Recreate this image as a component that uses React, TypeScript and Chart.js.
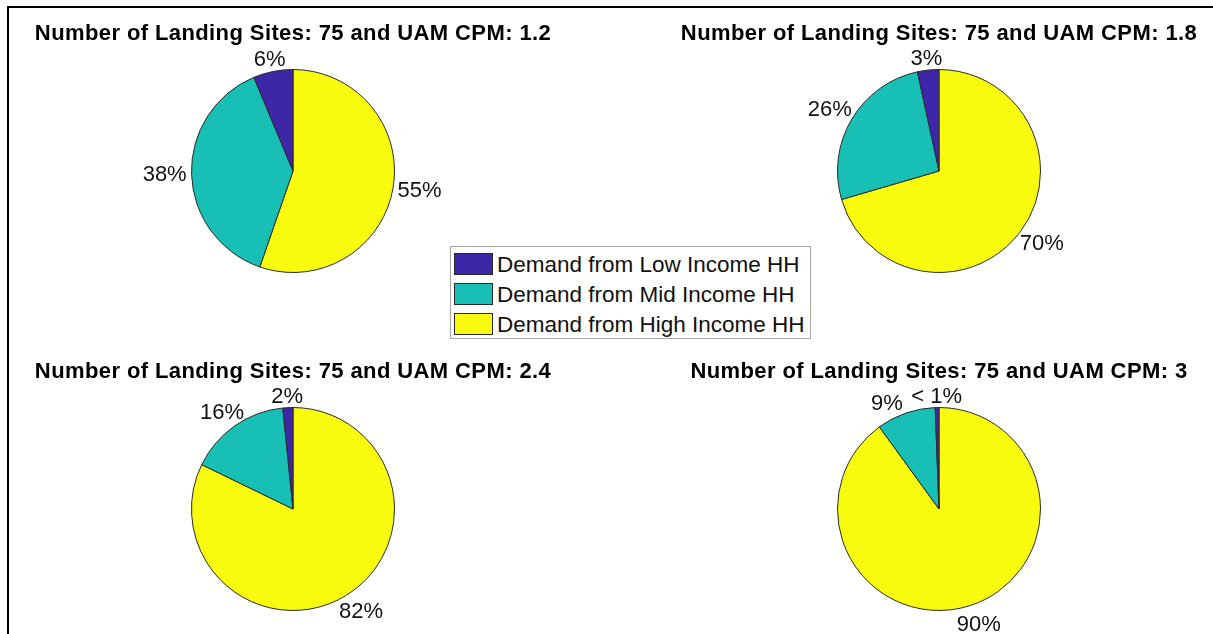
import React, { useEffect, useRef } from 'react';
import { Chart, registerables } from 'chart.js';

Chart.register(...registerables);

// ---- data ----
const CATEGORIES = ['Demand from Low Income HH', 'Demand from Mid Income HH', 'Demand from High Income HH'];
const LANDING_SITES = 75;
const CPM_VALUES = ['1.2', '1.8', '2.4', '3'];
const LOW_INCOME = [6.3, 3.4, 1.6, 0.6];
const MID_INCOME = [38.4, 26.1, 16.2, 9.4];
const HIGH_INCOME = [55.3, 70.4, 82.2, 90.0];

// ---- styles ----
const COLORS = ['#3e26a8', '#18bfb5', '#f9fb0e'];
const FONT = '"Liberation Sans", Arial, Helvetica, sans-serif';
const PIE_RADIUS = 101.5;

const PANELS = [
  { left: 0, top: 0, width: 586, height: 342 },
  { left: 665, top: 0, width: 548, height: 342 },
  { left: 0, top: 340, width: 586, height: 338 },
  { left: 665, top: 340, width: 548, height: 338 },
];

const pieTextPlugin = {
  id: 'pieText',
  afterDatasetsDraw(chart: any, _args: any, opts: any) {
    const ctx = chart.ctx as CanvasRenderingContext2D;
    const meta = chart.getDatasetMeta(0);
    const arcs = meta.data;
    const values: number[] = chart.data.datasets[0].data;
    const total = values.reduce((a, b) => a + b, 0);
    const placed: any[] = [];
    ctx.save();
    ctx.font = `22px ${FONT}`;
    ctx.fillStyle = '#111111';
    ctx.textAlign = 'center';
    ctx.textBaseline = 'middle';
    let cx0 = 0;
    let cy0 = 0;
    for (let k = arcs.length - 1; k >= 0; k--) {
      const p = arcs[k].getProps(['x', 'y', 'startAngle', 'endAngle', 'outerRadius'], true);
      cx0 = p.x;
      cy0 = p.y;
      const pct = (values[k] / total) * 100;
      const text = pct < 1 ? '< 1%' : `${Math.round(pct)}%`;
      const w = ctx.measureText(text).width;
      const h = 22;
      let a = (p.startAngle + p.endAngle) / 2;
      const place = (ang: number) => {
        const c = Math.cos(ang);
        const s = Math.sin(ang);
        const f = s > 0 ? 1.2 : 1.1 + 0.1 * Math.abs(c);
        const R = p.outerRadius * f;
        const cx = p.x + c * R + c * 0.15 * w;
        const cy = p.y + s * R;
        return { cx, cy, ang, x0: cx - w / 2, x1: cx + w / 2, y0: cy - h / 2, y1: cy + h / 2 };
      };
      let box = place(a);
      const pad = 8;
      const hit = (b: any) => placed.find(q => b.x0 < q.x1 + pad && b.x1 + pad > q.x0 && b.y0 < q.y1 && b.y1 > q.y0);
      let guard = 0;
      let other = hit(box);
      while (other && guard < 180) {
        a += (a < other.ang ? -1 : 1) * (Math.PI / 360);
        box = place(a);
        other = hit(box);
        guard++;
      }
      placed.push(box);
      ctx.fillText(text, box.cx, box.cy);
    }
    // title
    ctx.font = `bold 22px ${FONT}`;
    ctx.fillStyle = '#000000';
    (ctx as any).letterSpacing = '0.4px';
    ctx.textBaseline = 'alphabetic';
    ctx.fillText(opts.title, cx0, cy0 - 131);
    ctx.restore();
  },
};

export default function App() {
  const refs = useRef<(HTMLCanvasElement | null)[]>([]);

  useEffect(() => {
    const charts = PANELS.map((_, i) => {
      const canvas = refs.current[i] as HTMLCanvasElement;
      return new Chart(canvas, {
        type: 'pie',
        data: {
          labels: [CATEGORIES[2], CATEGORIES[1], CATEGORIES[0]],
          datasets: [
            {
              data: [HIGH_INCOME[i], MID_INCOME[i], LOW_INCOME[i]],
              backgroundColor: [COLORS[2], COLORS[1], COLORS[0]],
              borderColor: '#2a2a2a',
              borderWidth: 1,
              radius: PIE_RADIUS,
            } as any,
          ],
        },
        options: {
          responsive: false,
          animation: false,
          events: [],
          devicePixelRatio: 1,
          layout: { padding: 0 },
          plugins: {
            legend: { display: false },
            tooltip: { enabled: false },
            title: { display: false },
            pieText: { title: `Number of Landing Sites: ${LANDING_SITES} and UAM CPM: ${CPM_VALUES[i]}` },
          } as any,
        },
        plugins: [pieTextPlugin as any],
      });
    });
    return () => charts.forEach(c => c.destroy());
  }, []);

  return (
    <div
      style={{
        position: 'absolute',
        left: 0,
        top: 0,
        width: 1213,
        height: 634,
        overflow: 'hidden',
        background: '#ffffff',
        fontFamily: FONT,
      }}
    >
      <div
        style={{
          position: 'absolute',
          left: 7,
          top: 6,
          right: 0,
          bottom: 0,
          borderLeft: '2px solid #000',
          borderTop: '2px solid #000',
        }}
      />
      {PANELS.map((p, i) => (
        <canvas
          key={i}
          ref={el => {
            refs.current[i] = el;
          }}
          width={p.width}
          height={p.height}
          style={{ position: 'absolute', left: p.left, top: p.top }}
        />
      ))}
      <div
        style={{
          position: 'absolute',
          left: 450,
          top: 246,
          width: 359,
          height: 91,
          border: '1px solid #a6a6a6',
          background: '#ffffff',
          zIndex: 2,
        }}
      >
        {CATEGORIES.map((label, i) => (
          <React.Fragment key={label}>
            <div
              style={{
                position: 'absolute',
                left: 3,
                top: 6 + i * 30,
                width: 39,
                height: 22,
                boxSizing: 'border-box',
                border: '1px solid #2a2a2a',
                background: COLORS[i],
              }}
            />
            <div
              style={{
                position: 'absolute',
                left: 46,
                top: 7 + i * 30,
                height: 22,
                lineHeight: '22px',
                fontSize: 22.5,
                color: '#111111',
                whiteSpace: 'nowrap',
              }}
            >
              {label}
            </div>
          </React.Fragment>
        ))}
      </div>
    </div>
  );
}
